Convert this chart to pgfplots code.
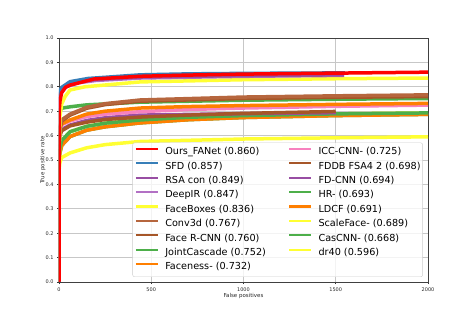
\documentclass[border=0pt]{standalone}
\usepackage{pgfplots}
\pgfplotsset{compat=1.18}
\usepackage{fontspec}
\setmainfont{DejaVu Sans}
\definecolor{cred}{RGB}{255,0,0}
\definecolor{cblue}{RGB}{55,126,184}
\definecolor{cpurple}{RGB}{152,78,163}
\definecolor{clpurple}{RGB}{178,112,196}
\definecolor{cyellow}{RGB}{255,255,51}
\definecolor{clbrown}{RGB}{182,102,62}
\definecolor{cbrown}{RGB}{166,86,40}
\definecolor{cgreen}{RGB}{77,175,74}
\definecolor{corange}{RGB}{255,127,0}
\definecolor{cpink}{RGB}{247,129,191}
\begin{document}
\begin{tikzpicture}
\path[use as bounding box] (-59bp,-35bp) rectangle (417bp,282bp);
\begin{axis}[
  scale only axis, width=369bp, height=244bp,
  xmin=0, xmax=2000, ymin=0, ymax=1,
  xtick={0,500,1000,1500,2000},
  ytick={0,0.1,0.2,0.3,0.4,0.5,0.6,0.7,0.8,0.9,1.0},
  xticklabel style={/pgf/number format/set thousands separator={}},
  yticklabel style={/pgf/number format/fixed, /pgf/number format/fixed zerofill, /pgf/number format/precision=1},
  /pgf/number format/assume math mode=true,
  scaled y ticks=false, scaled x ticks=false,
  ticklabel style={font=\fontsize{5}{6}\selectfont, text=black!85},
  tick pos=left, tick align=outside, major tick length=2bp,
  tick style={black!80, line width=0.6bp},
  grid=major, major grid style={line width=0.8bp, black!22},
  axis line style={black!75, line width=0.8bp},
  xlabel={False positives}, ylabel={True positive rate},
  label style={font=\fontsize{5.5}{6.5}\selectfont, text=black!85},
  x label style={at={(axis description cs:0.5,-0.056)}, anchor=center},
  y label style={at={(axis description cs:-0.044,0.5)}, anchor=center},
  every axis plot/.append style={line width=3.5bp, line join=round},
  legend columns=2,
  legend cell align=left,
  legend image code/.code={\draw[#1, line width=2.3bp] (0bp,0.33em) -- (22bp,0.33em);},
  legend style={at={(rel axis cs:0.986,0.0205)}, anchor=south east,
    font=\fontsize{9.7}{10}\selectfont,
    fill=white, fill opacity=0.8, text opacity=1, draw=black!20, rounded corners=2bp,
    inner xsep=2bp, inner ysep=4.9bp, row sep=5.4bp,
    nodes={inner sep=0pt, text height=7bp, text depth=2bp},
    /tikz/every odd column/.append style={column sep=6.3bp},
    /tikz/every even column/.append style={column sep=22bp}},
]
% hidden ones first
\addplot[cyellow, forget plot] coordinates {(0,0)(1,0.52)(5,0.55)(15,0.58)(60,0.616)(150,0.638)(250,0.651)(440,0.664)(700,0.675)(1000,0.682)(1500,0.689)(2000,0.693)};
\addplot[cgreen, forget plot] coordinates {(0,0)(1,0.50)(5,0.53)(15,0.56)(60,0.596)(150,0.622)(250,0.636)(440,0.652)(700,0.665)(1000,0.674)(1500,0.682)(2000,0.687)};
% dr40
\addplot[cyellow, forget plot] coordinates {(0,0)(1,0.46)(5,0.49)(15,0.51)(60,0.529)(150,0.55)(250,0.563)(440,0.576)(1000,0.586)(1500,0.591)(2000,0.595)};
% LDCF
\addplot[corange, forget plot] coordinates {(0,0)(1,0.50)(5,0.53)(15,0.56)(60,0.596)(150,0.622)(250,0.636)(440,0.652)(700,0.665)(1000,0.674)(1500,0.682)(2000,0.687)};
% HR
\addplot[cgreen, forget plot] coordinates {(0,0)(1,0.52)(5,0.55)(15,0.58)(60,0.616)(150,0.638)(250,0.651)(440,0.664)(700,0.675)(1000,0.682)(1500,0.689)(2000,0.693)};
% FD-CNN
\addplot[cpurple, forget plot] coordinates {(0,0)(1,0.58)(5,0.61)(15,0.625)(60,0.643)(150,0.662)(250,0.673)(440,0.684)(1000,0.69)(1500,0.694)};
% FDDB FSA4 2
\addplot[cbrown, forget plot] coordinates {(0,0)(1,0.57)(5,0.60)(15,0.62)(60,0.64)(150,0.655)(250,0.666)(440,0.676)(700,0.684)(1000,0.691)(1500,0.699)};
% ICC-CNN
\addplot[cpink, forget plot] coordinates {(0,0)(1,0.60)(5,0.63)(15,0.645)(60,0.66)(150,0.678)(250,0.688)(440,0.698)(700,0.707)(1000,0.713)(1500,0.72)(2000,0.725)};
% Faceness
\addplot[corange, forget plot] coordinates {(0,0)(1,0.60)(5,0.63)(15,0.648)(60,0.664)(150,0.688)(250,0.700)(440,0.713)(700,0.719)(1000,0.723)(1500,0.728)(2000,0.732)};
% JointCascade
\addplot[cgreen, forget plot] coordinates {(0,0)(1,0.69)(5,0.705)(20,0.713)(60,0.718)(150,0.726)(440,0.737)(1000,0.745)(1500,0.749)(2000,0.752)};
% Face R-CNN
\addplot[cbrown, forget plot] coordinates {(0,0)(1,0.58)(5,0.63)(15,0.66)(60,0.684)(150,0.712)(250,0.727)(440,0.741)(1000,0.752)(1500,0.757)(2000,0.760)};
% Conv3d
\addplot[clbrown, forget plot] coordinates {(0,0)(1,0.59)(5,0.635)(15,0.665)(60,0.688)(150,0.716)(250,0.731)(440,0.746)(1000,0.758)(1500,0.763)(2000,0.767)};
% FaceBoxes
\addplot[cyellow, forget plot] coordinates {(0,0)(1,0.50)(5,0.68)(15,0.73)(33,0.76)(60,0.787)(140,0.80)(440,0.82)(1000,0.829)(1500,0.833)(2000,0.836)};
% DeepIR
\addplot[clpurple, forget plot] coordinates {(0,0)(1,0.73)(5,0.762)(15,0.782)(40,0.80)(100,0.816)(200,0.826)(440,0.836)(1000,0.843)(1545,0.847)};
% RSA con
\addplot[cpurple, forget plot] coordinates {(0,0)(1,0.74)(5,0.77)(15,0.79)(40,0.805)(100,0.82)(200,0.83)(440,0.84)(1000,0.846)(1545,0.849)};
% SFD
\addplot[cblue, forget plot] coordinates {(0,0)(1,0.77)(5,0.785)(15,0.798)(33,0.807)(60,0.821)(157,0.834)(440,0.849)(700,0.853)(1000,0.855)(1550,0.857)};
% Ours
\addplot[cred, forget plot] coordinates {(0,0)(1,0.70)(5,0.74)(14,0.775)(35,0.798)(60,0.807)(190,0.832)(440,0.843)(700,0.848)(1000,0.852)(1500,0.856)(2000,0.860)};
% legend (row-wise order so columns read as in the reference)
\addlegendimage{cred}\addlegendentry{Ours\_FANet (0.860)}
\addlegendimage{cpink}\addlegendentry{ICC-CNN- (0.725)}
\addlegendimage{cblue}\addlegendentry{SFD (0.857)}
\addlegendimage{cbrown}\addlegendentry{FDDB FSA4 2 (0.698)}
\addlegendimage{cpurple}\addlegendentry{RSA con (0.849)}
\addlegendimage{cpurple}\addlegendentry{FD-CNN (0.694)}
\addlegendimage{clpurple}\addlegendentry{DeepIR (0.847)}
\addlegendimage{cgreen}\addlegendentry{HR- (0.693)}
\addlegendimage{cyellow}\addlegendentry{FaceBoxes (0.836)}
\addlegendimage{corange}\addlegendentry{LDCF (0.691)}
\addlegendimage{clbrown}\addlegendentry{Conv3d (0.767)}
\addlegendimage{cyellow}\addlegendentry{ScaleFace- (0.689)}
\addlegendimage{cbrown}\addlegendentry{Face R-CNN (0.760)}
\addlegendimage{cgreen}\addlegendentry{CasCNN- (0.668)}
\addlegendimage{cgreen}\addlegendentry{JointCascade (0.752)}
\addlegendimage{cyellow}\addlegendentry{dr40 (0.596)}
\addlegendimage{corange}\addlegendentry{Faceness- (0.732)}
\end{axis}
\end{tikzpicture}
\end{document}
